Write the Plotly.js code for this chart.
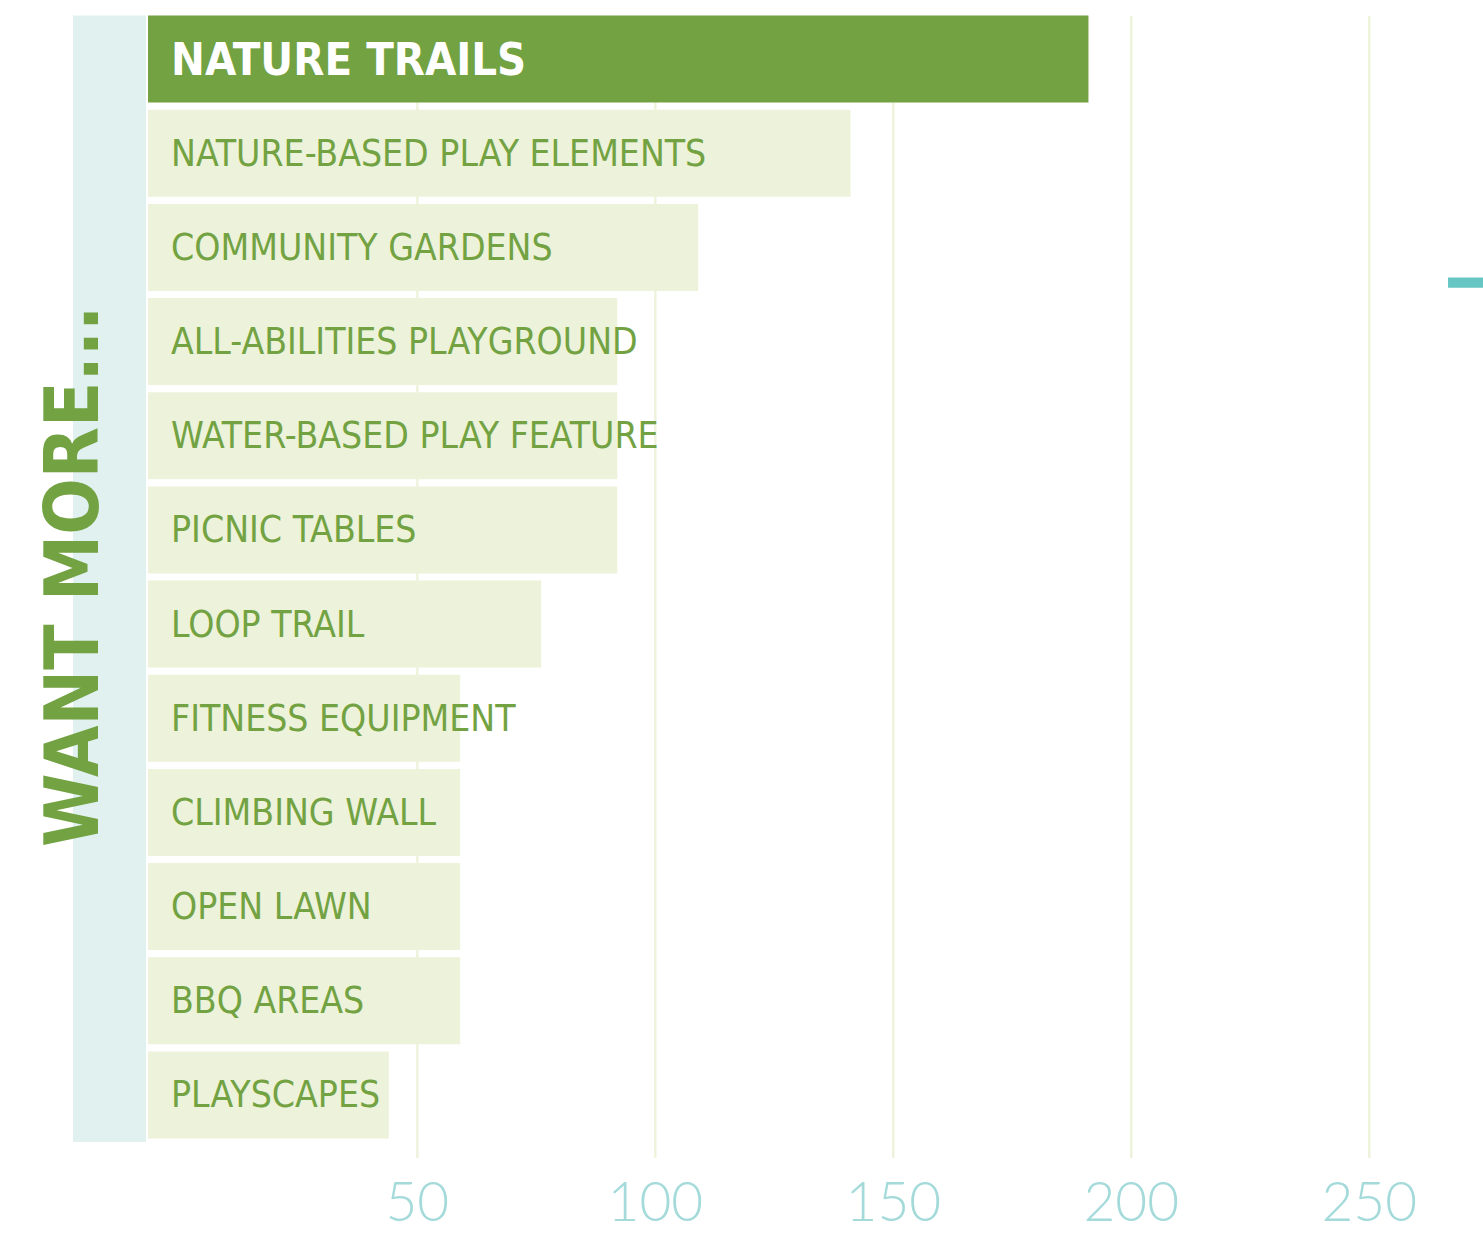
<!DOCTYPE html>
<html>
<head>
<meta charset="utf-8">
<script src="https://cdn.plot.ly/plotly-3.0.1.min.js"></script>
<style>
  html, body { margin: 0; padding: 0; background: #ffffff; }
  #chart { width: 1483px; height: 1246px; }
</style>
</head>
<body>
<div id="chart"></div>
<script>
// ---- data ----
const categories = [
  "NATURE TRAILS",
  "NATURE-BASED PLAY ELEMENTS",
  "COMMUNITY GARDENS",
  "ALL-ABILITIES PLAYGROUND",
  "WATER-BASED PLAY FEATURE",
  "PICNIC TABLES",
  "LOOP TRAIL",
  "FITNESS EQUIPMENT",
  "CLIMBING WALL",
  "OPEN LAWN",
  "BBQ AREAS",
  "PLAYSCAPES"
];
const values = [191, 141, 109, 92, 92, 92, 76, 59, 59, 59, 59, 44];
const tickValues = [50, 100, 150, 200, 250];
const tickLabels = ["50", "100", "150", "200", "250"];
const sideTitle = "WANT MORE...";

// ---- styling ----
const AXIS_MIN = -6.6;
const AXIS_MAX = 273.9;
const GREEN = "#72a242";
const LIGHT = "#edf2da";
const LABEL_FONT = "'Liberation Sans Narrow', 'DejaVu Sans Condensed', 'Roboto', sans-serif";

const barColors = values.map((v, i) => i === 0 ? GREEN : LIGHT);

const trace = {
  type: "bar",
  orientation: "h",
  y: categories,
  x: values.map(v => v - AXIS_MIN),
  base: AXIS_MIN,
  marker: { color: barColors, line: { width: 0 } },
  hoverinfo: "skip",
  showlegend: false
};

const annotations = categories.map((c, i) => ({
  x: AXIS_MIN, y: c, xref: "x", yref: "y",
  text: c, showarrow: false,
  xanchor: "left", yanchor: "middle", xshift: 21,
  font: i === 0
    ? { family: LABEL_FONT, size: 45, color: "#ffffff", weight: 700 }
    : { family: LABEL_FONT, size: 37, color: GREEN }
}));

annotations.push({
  x: -0.0569, y: 0.5, xref: "paper", yref: "paper",
  text: sideTitle, showarrow: false, textangle: -90,
  xanchor: "center", yanchor: "middle",
  font: { family: LABEL_FONT, size: 74, color: GREEN, weight: 700 }
});

const shapes = [
  // side panel
  { type: "rect", xref: "paper", yref: "paper", x0: -0.0562, x1: -0.0015, y0: 0, y1: 0.9968,
    fillcolor: "#e1f1f0", line: { width: 0 }, layer: "below" },
  // teal marker at right edge
  { type: "rect", xref: "paper", yref: "paper", x0: 0.9738, x1: 1.0, y0: 0.756, y1: 0.765,
    fillcolor: "#66c6c3", line: { width: 0 }, layer: "above" }
];
tickValues.forEach(v => {
  shapes.push({ type: "line", xref: "x", yref: "paper", x0: v, x1: v, y0: -0.0142, y1: 0.9965,
    line: { color: "#eef3dc", width: 2.5 }, layer: "below" });
});

const layout = {
  width: 1483, height: 1246,
  margin: { l: 148, r: 0, t: 12, b: 104, pad: 0 },
  paper_bgcolor: "#ffffff",
  plot_bgcolor: "rgba(0,0,0,0)",
  bargap: 0.076,
  xaxis: {
    range: [AXIS_MIN, AXIS_MAX],
    showgrid: false, zeroline: false, showline: false,
    tickmode: "array", tickvals: tickValues, ticktext: tickLabels,
    ticks: "", ticklabelstandoff: 23,
    tickfont: { family: "Lato, 'Open Sans', sans-serif", size: 55, color: "#a4dada", weight: 300 },
    fixedrange: true
  },
  yaxis: {
    type: "category",
    categoryorder: "array", categoryarray: categories,
    autorange: "reversed",
    showticklabels: false, showgrid: false, zeroline: false, showline: false, ticks: "",
    fixedrange: true
  },
  shapes: shapes,
  annotations: annotations
};

Plotly.newPlot("chart", [trace], layout, { displayModeBar: false, staticPlot: true });
</script>
</body>
</html>
